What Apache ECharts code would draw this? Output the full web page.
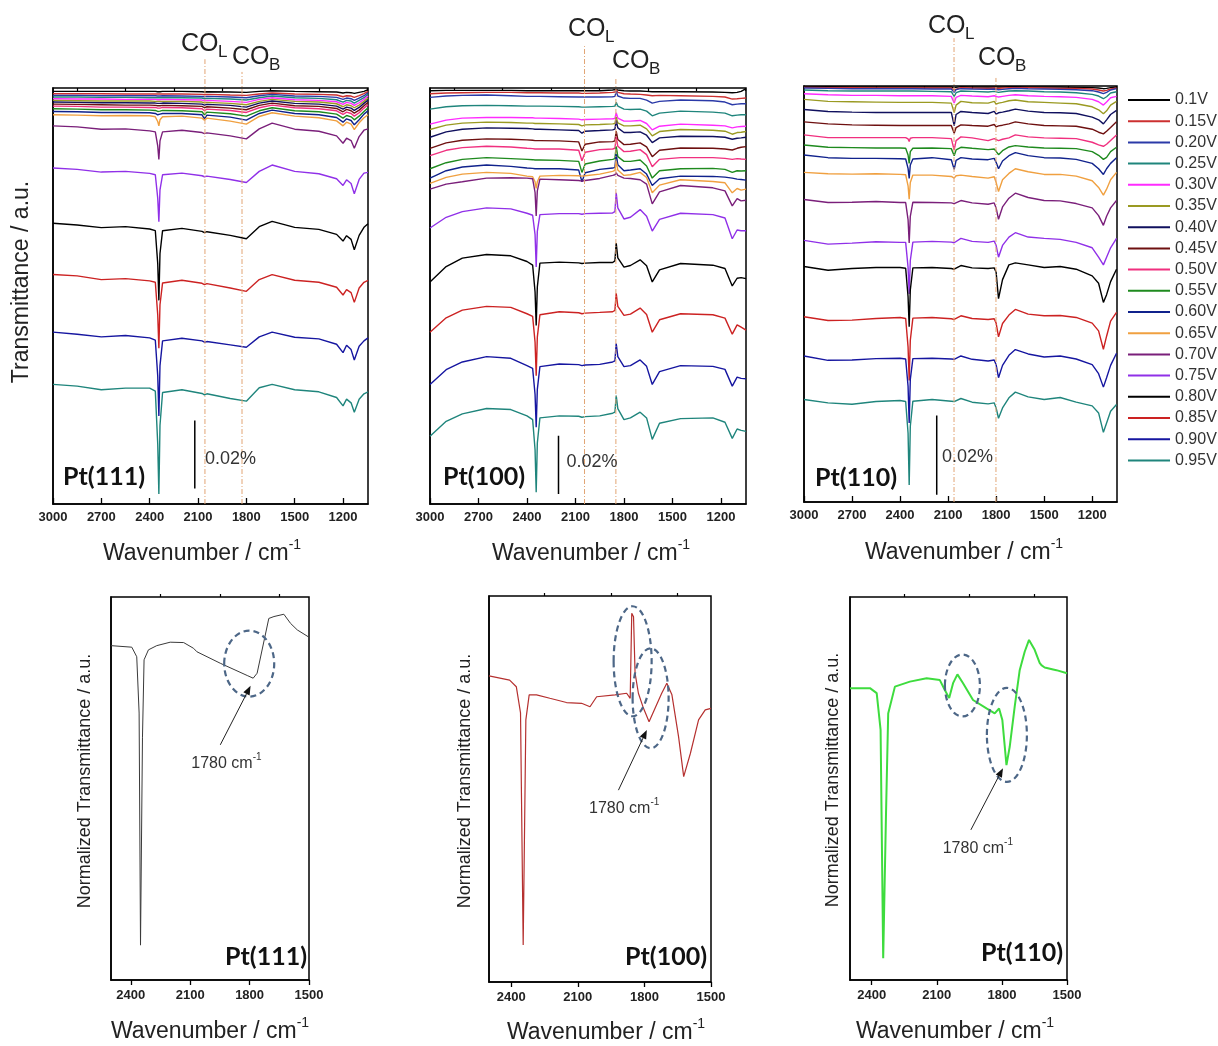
<!DOCTYPE html>
<html>
<head>
<meta charset="utf-8">
<script src="https://cdn.jsdelivr.net/npm/echarts@6/dist/echarts.min.js"></script>
<style>
  html, body { margin: 0; padding: 0; background: #fff; }
  #chart { width: 1218px; height: 1046px; }
</style>
</head>
<body>
<div id="chart"></div>
<script>
// ---------- electrode potentials (legend) ----------
const potentials = ['0.1V', '0.15V', '0.20V', '0.25V', '0.30V', '0.35V', '0.40V', '0.45V', '0.50V',
  '0.55V', '0.60V', '0.65V', '0.70V', '0.75V', '0.80V', '0.85V', '0.90V', '0.95V'];
const potentialColors = ['#000000', '#cc3030', '#2b3aa8', '#1f857c', '#ff2bff', '#9a9a22', '#10105e',
  '#6e1010', '#f0307f', '#1e8a1e', '#10228c', '#f0a040', '#7a1f7a', '#9030e8', '#000000', '#cc2222',
  '#1616a0', '#1f857c'];

// ---------- tick values ----------
const topMajorTicks = [3000, 2700, 2400, 2100, 1800, 1500, 1200];
const topMinorTicks = [2850, 2550, 2250, 1950, 1650, 1350, 1050];
const bottomMajorTicks = [2400, 2100, 1800, 1500];
const bottomMinorTicks = [2250, 1950, 1650];

// ---------- Pt(111) potential-dependent spectra (a.u.) ----------
// each spectrum = stacking offset (value at 3000 cm-1) + shape relative to it
const pt111Wavenumbers = [3000, 2850, 2700, 2550, 2400, 2365, 2350, 2343, 2336, 2320, 2200, 2075, 2060, 2045,
  1900, 1800, 1720, 1640, 1500, 1350, 1240, 1200, 1178, 1150, 1130, 1100, 1070, 1045];
const pt111Offsets = [123.2, 122.5, 122.0, 121.5, 121.0, 120.5, 120.0, 119.4, 118.8, 118.0, 117.2, 116.2,
  112.9, 100.3, 83.8, 68.5, 51.3, 35.7];
const pt111Shapes = [
  [0, 0, 0, 0, 0, 0, -0.1, -0.1, -0.1, 0, 0, -0.1, -0.2, -0.1, -0.2, -0.3, 0, 0.2, 0, -0.1, -0.2, -0.5, -0.3, -0.4, -0.6, -0.3, 0, 0.5],
  [0, 0, 0, -0.1, -0.1, -0.1, -0.1, -0.1, -0.1, -0.1, -0.1, -0.2, -0.3, -0.2, -0.4, -0.5, -0.1, 0.2, -0.1, -0.2, -0.4, -0.9, -0.6, -0.7, -1.1, -0.6, 0, 0.7],
  [0, 0, -0.1, -0.1, -0.1, -0.1, -0.2, -0.2, -0.2, -0.1, -0.2, -0.3, -0.4, -0.3, -0.5, -0.7, -0.1, 0.3, -0.2, -0.3, -0.6, -1.2, -0.8, -1.0, -1.5, -0.8, -0.1, 0.8],
  [0, 0, -0.1, -0.1, -0.2, -0.2, -0.2, -0.2, -0.2, -0.2, -0.2, -0.3, -0.5, -0.4, -0.6, -0.9, -0.2, 0.3, -0.2, -0.4, -0.8, -1.5, -1.0, -1.2, -1.8, -1.0, -0.2, 0.8],
  [0, -0.1, -0.1, -0.2, -0.2, -0.2, -0.3, -0.3, -0.3, -0.2, -0.3, -0.4, -0.6, -0.5, -0.8, -1.1, -0.2, 0.3, -0.3, -0.5, -0.9, -1.7, -1.1, -1.4, -2.0, -1.2, -0.2, 0.8],
  [0, -0.1, -0.2, -0.2, -0.2, -0.3, -0.3, -0.4, -0.3, -0.3, -0.3, -0.5, -0.7, -0.6, -0.9, -1.3, -0.3, 0.3, -0.3, -0.5, -1.0, -1.9, -1.3, -1.6, -2.2, -1.4, -0.3, 0.7],
  [0, -0.1, -0.2, -0.2, -0.3, -0.3, -0.4, -0.5, -0.4, -0.3, -0.4, -0.6, -0.9, -0.7, -1.0, -1.5, -0.3, 0.3, -0.4, -0.6, -1.2, -2.1, -1.5, -1.8, -2.5, -1.6, -0.4, 0.6],
  [0, -0.1, -0.2, -0.3, -0.3, -0.4, -0.5, -0.7, -0.5, -0.4, -0.5, -0.7, -1.1, -0.8, -1.2, -1.7, -0.4, 0.3, -0.5, -0.7, -1.3, -2.3, -1.6, -2.0, -2.7, -1.8, -0.5, 0.5],
  [0, -0.1, -0.3, -0.3, -0.4, -0.4, -0.6, -0.9, -0.6, -0.4, -0.5, -0.8, -1.4, -0.9, -1.3, -1.9, -0.5, 0.3, -0.5, -0.8, -1.4, -2.5, -1.8, -2.2, -3.0, -2.0, -0.6, 0.4],
  [0, -0.1, -0.3, -0.3, -0.4, -0.5, -0.8, -1.2, -0.7, -0.5, -0.6, -0.9, -1.8, -1.0, -1.5, -2.2, -0.6, 0.3, -0.6, -0.9, -1.6, -2.8, -2.0, -2.4, -3.3, -2.2, -0.8, 0.3],
  [0, -0.1, -0.3, -0.3, -0.4, -0.6, -1.0, -1.5, -0.8, -0.6, -0.6, -1.0, -2.2, -1.1, -1.7, -2.6, -0.6, 0.4, -0.6, -1.0, -1.8, -3.2, -2.2, -2.7, -4.0, -2.5, -0.8, 0.2],
  [0, -0.1, -0.3, -0.2, -0.3, -0.6, -2.0, -3.3, -1.5, -0.6, -0.4, -1.0, -1.6, -1.0, -1.9, -2.8, -0.5, 0.6, -0.4, -0.9, -1.8, -3.3, -2.2, -2.8, -4.4, -2.4, -0.9, 0],
  [0, -0.3, -1.0, -0.9, -1.5, -1.8, -6, -10, -4.5, -1.8, -1.3, -2.0, -2.3, -2.1, -3.0, -3.9, -0.9, 0.8, -1.0, -1.6, -3.0, -5.2, -3.7, -4.4, -6.7, -3.2, -1.3, -0.9],
  [0, -0.4, -1.2, -1.0, -1.6, -2.0, -9, -16, -6.5, -2.0, -1.5, -2.3, -2.6, -2.4, -3.4, -4.3, -1.0, 0.9, -1.0, -1.7, -3.2, -5.2, -3.5, -4.6, -7.7, -3.4, -1.5, -1.3],
  [0, -0.5, -1.3, -1.0, -1.7, -2.2, -12, -23, -9, -2.2, -1.5, -2.4, -2.8, -2.5, -3.6, -4.6, -1.0, 0.6, -1.2, -1.8, -3.3, -5.3, -3.7, -4.8, -7.9, -3.6, -1.2, -0.1],
  [0, -0.4, -1.5, -1.2, -1.9, -2.3, -12, -22, -9, -2.5, -1.7, -2.6, -3.0, -2.7, -4.0, -5.0, -1.5, 0, -1.7, -2.3, -3.8, -6.1, -4.5, -5.4, -8.3, -4.0, -2.3, -1.7],
  [0, -0.6, -1.4, -1.0, -1.7, -2.4, -13, -25, -10, -2.6, -1.8, -2.6, -3.0, -2.8, -3.8, -4.5, -1.4, 0, -1.5, -2.0, -3.6, -6.1, -3.9, -5.2, -8.3, -4.2, -2.6, -1.7],
  [0, -0.5, -1.6, -1.1, -1.1, -2.0, -17.7, -32.7, -12.2, -2.4, -1.6, -2.7, -3.1, -2.8, -4.2, -5.0, -1.0, 0, -1.6, -2.2, -3.9, -6.4, -4.4, -5.5, -8.3, -4.4, -2.8, -2.2]
];

// ---------- Pt(100) potential-dependent spectra (a.u.) ----------
const pt100Wavenumbers = [3000, 2900, 2800, 2650, 2500, 2400, 2365, 2350, 2343, 2336, 2320, 2200, 2080, 2060, 2040,
  1950, 1870, 1856, 1848, 1838, 1800, 1760, 1700, 1660, 1625, 1580, 1450, 1250, 1175, 1130, 1100, 1075, 1045];
const pt100Offsets = [123.4, 122.5, 121.4, 117.9, 113.4, 111.8, 109.5, 106.2, 104.0, 100.1, 97.3, 95.7,
  94.0, 82.4, 66.3, 51.3, 35.7, 20.2];
const pt100Shapes = [
  [0, 0.1, 0.1, 0.1, 0.1, 0, 0, 0, 0, 0, 0, 0, 0, 0, 0, 0, 0.2, 0.3, 0.6, 0.2, 0, -0.1, -0.1, -0.2, -0.3, -0.3, -0.3, -0.4, -0.5, -0.6, -0.5, -0.2, 0.6],
  [0, 0.2, 0.3, 0.4, 0.4, 0.3, 0.3, 0.3, 0.3, 0.3, 0.3, 0.2, 0.2, 0.1, 0.1, 0.2, 0.4, 0.5, 1.1, 0.4, 0, -0.1, -0.2, -0.4, -0.6, -0.5, -0.6, -0.8, -1.0, -1.6, -1.5, -1.4, -1.3],
  [0, 0.4, 0.6, 0.7, 0.5, 0.3, 0.3, 0.3, 0.3, 0.3, 0.3, 0.2, 0.1, 0.1, 0.1, 0.1, 0.2, 0.3, 1.8, 0.4, -0.2, -0.3, -0.3, -0.8, -1.7, -1.2, -0.8, -1.0, -1.4, -2.2, -2.0, -1.9, -1.9],
  [0, 0.7, 1.0, 1.1, 1.0, 0.9, 0.9, 0.9, 0.9, 0.9, 0.9, 0.8, 0.7, 0.6, 0.6, 0.7, 0.8, 0.9, 2.0, 0.9, 0, -0.1, 0, -0.6, -2.0, -1.2, -0.6, -0.9, -1.2, -2.0, -1.8, -1.7, -1.7],
  [0, 1.2, 1.8, 2.0, 2.0, 1.9, 1.9, 1.8, 1.8, 1.8, 1.8, 1.7, 1.5, 1.3, 1.4, 1.5, 1.6, 1.7, 3.4, 1.8, 0.9, 0.9, 1.1, 0.2, -1.7, -0.6, 0, -0.3, -0.5, -1.1, -0.8, -0.7, -0.6],
  [0, 1.3, 1.9, 2.2, 2.1, 1.9, 1.9, 1.8, 1.8, 1.8, 1.8, 1.7, 1.5, 1.1, 1.4, 1.5, 1.7, 1.8, 3.7, 2.0, 1.1, 1.1, 1.3, 0.2, -1.9, -0.6, 0, -0.2, -0.5, -1.4, -0.9, -0.8, -0.6],
  [0, 1.6, 2.4, 2.8, 2.7, 2.6, 2.5, 2.4, 2.4, 2.4, 2.4, 2.2, 2.0, 1.2, 1.8, 2.0, 2.2, 2.4, 5.0, 2.8, 1.4, 1.4, 1.6, 0.6, -1.6, -0.2, 0.3, 0.2, 0, -0.6, -0.3, -0.2, 0],
  [0, 1.6, 2.4, 2.8, 2.7, 2.5, 2.4, 2.3, 2.3, 2.3, 2.3, 2.2, 1.9, -0.8, 1.2, 1.9, 2.0, 2.2, 5.1, 2.6, 1.1, 1.2, 1.6, 0.4, -2.5, -0.6, 0.1, 0, -0.2, -0.5, 0, 0.3, 0.5],
  [0, 1.6, 2.4, 2.8, 2.6, 2.2, 2.1, 2.0, 2.0, 2.0, 2.0, 2.0, 1.6, -1.5, 1.0, 1.8, 2.0, 2.2, 5.5, 2.8, 1.2, 1.3, 1.8, 0.3, -3.3, -1.1, -0.6, -0.6, -0.8, -1.1, -0.9, -1.0, -1.1],
  [0, 1.8, 2.8, 3.3, 3.0, 2.8, 2.7, 2.6, 2.5, 2.6, 2.6, 2.5, 2.2, -1.1, 1.4, 2.3, 2.8, 3.0, 6.7, 3.6, 2.2, 2.2, 2.6, 0.8, -2.8, -0.6, 0, 0.1, -0.2, -1.1, -0.6, -0.7, -0.6],
  [0, 2.2, 3.3, 3.9, 3.5, 3.0, 2.9, 2.8, 2.6, 2.8, 2.8, 2.8, 2.4, -1.1, 1.6, 2.6, 3.0, 3.2, 7.2, 4.0, 2.2, 2.4, 2.8, 1.2, -2.2, -0.2, 0.6, 0.5, 0.3, 0, -0.3, -0.4, -0.6],
  [0, 1.8, 2.8, 3.3, 3.0, 2.2, 2.0, 0.5, -1.5, 0.5, 2.2, 2.4, 2.3, 2.2, 2.3, 2.8, 3.6, 3.9, 6.6, 4.0, 2.4, 2.6, 3.3, 1.8, -2.8, -0.5, 1.1, 0.6, 0.2, -2.8, -1.5, -2.0, -1.7],
  [0, 1.5, 2.2, 3.3, 3.4, 3.3, 3.1, -1, -8, -0.5, 3.0, 2.8, 2.6, 2.4, 2.6, 3.2, 4.1, 4.3, 4.9, 4.1, 3.3, 3.2, 2.8, 1.5, -4.4, -0.8, 1.1, 0.4, -0.5, -5.0, -2.8, -3.5, -3.3],
  [0, 3.2, 4.9, 6.0, 5.7, 4.4, 3.8, -2, -11.6, -1, 4.0, 4.3, 4.3, 4.1, 4.3, 4.4, 4.5, 4.9, 10.5, 6.0, 2.7, 3.2, 5.5, 3.5, -0.9, 2.6, 4.4, 4.0, 3.0, -3.2, -0.6, -0.8, -0.8],
  [0, 4.6, 7.1, 8.2, 7.8, 6.1, 5.0, -3, -13, -1.5, 5.6, 5.9, 5.7, 5.5, 5.6, 5.8, 5.8, 6.3, 11.6, 7.2, 4.4, 4.9, 6.6, 4.8, 0, 3.6, 5.5, 5.0, 4.0, -1.2, 1.1, 1.3, 1.0],
  [0, 4.3, 6.6, 7.7, 7.4, 5.5, 4.7, -3, -13, -1.5, 5.2, 6.1, 5.8, 5.5, 5.7, 5.9, 6.1, 6.5, 11.6, 7.7, 5.0, 5.4, 7.2, 5.3, 0, 3.7, 5.5, 5.2, 4.2, -0.6, 2.2, 1.5, 0.6],
  [0, 4.4, 6.7, 8.3, 7.8, 5.6, 4.8, -3, -12.8, -1.5, 5.3, 6.1, 5.9, 5.6, 5.8, 6.0, 6.7, 7.0, 12.2, 8.3, 5.3, 5.6, 7.3, 5.4, 0, 3.8, 5.6, 5.4, 4.5, -0.5, 2.2, 1.8, 1.7],
  [0, 4.5, 6.7, 8.3, 8.0, 6.1, 5.0, -4, -16.7, -2, 5.5, 6.1, 6.0, 5.7, 5.9, 6.1, 6.9, 7.2, 12.2, 8.3, 5.0, 5.5, 7.2, 5.5, -0.9, 3.9, 5.3, 5.5, 4.2, -0.6, 2.2, 1.8, 1.5]
];

// ---------- Pt(110) potential-dependent spectra (a.u.) ----------
const pt110Wavenumbers = [3000, 2850, 2700, 2550, 2400, 2365, 2350, 2343, 2336, 2320, 2200, 2080, 2062, 2050, 2020,
  1950, 1850, 1812, 1800, 1785, 1760, 1720, 1680, 1600, 1500, 1400, 1300, 1200, 1160, 1130, 1110, 1085, 1048];
const pt110Offsets = [124.0, 123.8, 123.6, 123.0, 121.9, 120.2, 117.2, 113.5, 109.6, 106.6, 103.6, 98.4,
  90.3, 78.1, 70.3, 55.3, 43.6, 30.6];
const pt110Shapes = [
  [0, 0, -0.1, -0.1, -0.1, -0.1, -0.1, -0.1, -0.1, -0.1, -0.1, -0.1, -0.3, -0.1, 0, -0.1, -0.1, -0.1, -0.1, -0.1, -0.1, 0, 0, -0.1, -0.1, -0.1, -0.2, -0.3, -0.4, -0.6, -0.5, -0.3, -0.1],
  [0, -0.1, -0.1, -0.2, -0.2, -0.2, -0.2, -0.2, -0.2, -0.2, -0.2, -0.2, -0.8, -0.3, -0.1, -0.2, -0.3, -0.2, -0.3, -0.3, -0.2, -0.1, -0.1, -0.1, -0.2, -0.3, -0.3, -0.5, -0.8, -1.1, -0.9, -0.5, -0.2],
  [0, -0.1, -0.2, -0.2, -0.2, -0.2, -0.2, -0.2, -0.2, -0.2, -0.3, -0.3, -1.3, -0.5, -0.2, -0.3, -0.4, -0.3, -0.5, -0.5, -0.4, -0.2, -0.1, -0.2, -0.3, -0.4, -0.5, -0.8, -1.2, -1.7, -1.3, -0.6, -0.2],
  [0, -0.2, -0.3, -0.3, -0.3, -0.3, -0.3, -0.3, -0.3, -0.3, -0.4, -0.5, -1.9, -0.8, -0.3, -0.4, -0.6, -0.4, -0.7, -0.7, -0.5, -0.3, -0.2, -0.3, -0.5, -0.6, -0.8, -1.3, -1.8, -2.6, -2.0, -0.9, -0.5],
  [0, -0.3, -0.5, -0.5, -0.6, -0.6, -0.6, -0.6, -0.6, -0.6, -0.6, -0.8, -2.8, -1.1, -0.5, -0.7, -0.9, -0.6, -1.1, -1.0, -0.8, -0.5, -0.3, -0.6, -0.8, -0.9, -1.1, -1.7, -2.4, -3.4, -2.5, -1.2, -0.8],
  [0, -0.6, -0.7, -0.8, -0.9, -0.9, -0.9, -0.9, -0.9, -0.9, -0.9, -1.1, -3.9, -1.7, -0.6, -1.0, -1.1, -0.6, -1.4, -1.1, -0.9, -0.4, -0.2, -0.7, -0.9, -1.1, -1.3, -2.2, -3.1, -4.3, -3.4, -1.7, -0.6],
  [0, -0.6, -0.8, -0.9, -0.9, -0.9, -0.9, -1.0, -0.9, -0.9, -0.9, -0.9, -4.8, -1.5, -0.6, -0.9, -1.2, -0.6, -1.4, -1.0, -0.8, -0.4, 0.1, -0.5, -0.9, -1.0, -1.2, -2.3, -3.1, -4.3, -3.1, -1.5, -0.3],
  [0, -0.6, -0.9, -1.0, -1.1, -1.1, -1.1, -1.2, -1.1, -1.1, -1.1, -1.1, -3.4, -1.7, -0.9, -1.1, -1.3, -0.8, -1.5, -1.2, -1.0, -0.6, 0, -0.6, -1.1, -1.2, -1.3, -2.2, -3.1, -3.6, -2.8, -1.7, 0],
  [0, -0.8, -0.8, -0.8, -0.8, -0.8, -1.2, -2.0, -1.0, -0.8, -0.8, -1.1, -4.5, -1.7, -0.6, -0.9, -1.7, -1.1, -1.6, -1.7, -1.3, -0.9, 0, -0.6, -0.9, -1.0, -1.1, -2.2, -3.0, -3.4, -2.8, -1.7, 0],
  [0, -0.7, -0.8, -0.9, -0.9, -1.0, -3, -5.5, -2, -1.0, -0.9, -1.1, -3.2, -1.5, -0.7, -1.0, -1.4, -1.2, -1.9, -2.9, -1.7, -0.6, -0.2, -0.6, -0.9, -1.0, -1.1, -2.0, -3.1, -4.3, -3.7, -2.0, -0.7],
  [0, -0.8, -1.0, -1.0, -1.1, -1.2, -4, -7, -3, -1.2, -0.8, -1.4, -4.3, -1.6, -0.8, -1.2, -1.4, -1.0, -2.2, -4.1, -1.8, -0.2, 0.7, -0.2, -0.8, -0.9, -1.3, -2.5, -4.1, -5.8, -4.1, -2.5, -0.8],
  [0, -0.4, -0.5, -0.4, -0.6, -0.7, -4, -8, -3, -0.8, -0.8, -1.2, -1.7, -1.0, -0.8, -1.2, -1.7, -1.3, -3.0, -5.7, -2.2, -0.3, 1.1, 0.2, -0.6, -0.6, -1.1, -2.5, -4.5, -6.8, -5.0, -2.2, 0],
  [0, -0.9, -0.8, -0.6, -0.9, -0.9, -6, -13, -5, -0.8, -0.9, -1.0, -1.2, -1.2, -0.3, -1.0, -1.4, -1.0, -2.5, -5.9, -2.2, 0.4, 1.9, 0.6, -0.3, -0.4, -1.2, -2.5, -4.8, -7.7, -5.0, -2.5, -0.3],
  [0, -1.1, -0.8, -0.4, -0.6, -0.6, -8, -16, -6, -0.5, -0.3, -0.5, -0.7, -0.6, 0.6, -0.3, -0.6, -0.2, -1.5, -5.0, -1.5, 1.0, 2.3, 1.0, 0.6, 0.3, -0.6, -2.2, -5.0, -7.3, -5.0, -2.2, 0.6],
  [0, -1.1, -0.6, -0.3, -0.3, -0.5, -9, -18, -7, -0.4, -0.3, -0.6, -0.8, -0.8, 0.3, -0.4, -0.6, -0.4, -1.7, -9.6, -3.9, 0.5, 1.1, 0.5, -0.3, 0, -0.8, -2.8, -5.0, -10.7, -8.4, -4.5, -0.8],
  [0, -1.1, -1.0, -0.5, -0.2, -0.5, -9, -19, -7, -0.4, -0.2, -0.6, -0.8, -0.8, 0.3, -0.5, -0.8, -0.6, -1.9, -6.0, -2.0, 0.5, 2.2, 0.8, 0.3, 0.4, -0.2, -1.9, -4.2, -9.7, -5.8, -1.3, 1.3],
  [0, -1.3, -1.2, -0.8, -0.7, -0.9, -9, -20, -7, -0.8, -0.7, -0.9, -1.0, -1.2, 0.0, -1.0, -1.5, -1.2, -2.6, -6.5, -2.8, 0.2, 1.9, 0.6, -0.3, 0, -0.9, -2.6, -5.3, -9.3, -6.5, -2.8, 0.8],
  [0, -1.0, -1.4, -0.6, -0.3, -0.6, -10, -25.5, -8, -0.5, 0, -0.5, -0.6, -0.8, 0.3, -0.8, -1.3, -1.0, -2.5, -5.6, -2.5, 0.5, 2.2, 0.8, 0, 0.6, -0.8, -1.9, -4.0, -9.8, -7.0, -3.5, -1.5]
];

// ---------- normalized single spectra (a.u.) ----------
const pt111NormWavenumbers = [2500, 2395, 2370, 2358, 2351, 2341, 2333, 2311, 2269, 2201, 2133, 2083, 2066, 1948,
  1812, 1782, 1762, 1703, 1677, 1627, 1593, 1559, 1500];
const pt111NormValues = [87.3, 86.9, 84.4, 69.7, 9.1, 63.4, 83.6, 86.2, 87.3, 88.2, 88.1, 86.6, 85.7, 82.7,
  79.5, 78.8, 80.1, 94.4, 94.9, 95.5, 93.1, 91.4, 89.5];
const pt100NormWavenumbers = [2500, 2407, 2377, 2358, 2346, 2334, 2319, 2286, 2226, 2151, 2083, 2045, 2015, 1932,
  1880, 1864, 1857, 1849, 1842, 1827, 1804, 1779, 1752, 1722, 1699, 1676, 1646, 1623, 1593, 1556, 1526, 1500];
const pt100NormValues = [79.3, 78.2, 76.5, 69.7, 9.6, 67.9, 74.4, 74.4, 73.5, 72.4, 72.2, 71.3, 73.9, 74.4,
  74.8, 73.5, 95.5, 94.6, 80.0, 74.8, 70.9, 67.4, 70.9, 74.8, 77.4, 74.4, 63.5, 53.2, 59.2, 67.9, 70.5, 70.9];
const pt110NormWavenumbers = [2500, 2408, 2377, 2359, 2347, 2334, 2324, 2293, 2224, 2147, 2086, 2063, 2043, 2025,
  2005, 1979, 1933, 1871, 1833, 1813, 1798, 1779, 1764, 1741, 1718, 1695, 1675, 1649, 1626, 1618, 1603, 1549, 1500];
const pt110NormValues = [76.2, 76.2, 74.9, 65.3, 5.7, 43.6, 69.6, 76.6, 77.9, 78.8, 78.3, 75.7, 73.6, 77.5,
  79.8, 77.5, 73.1, 70.9, 69.6, 70.9, 67.9, 56.1, 60.9, 71.4, 80.9, 85.7, 88.8, 86.2, 82.8, 82.2, 81.6, 80.9, 80.1];

// ---------- band positions and scale bars ----------
const coLinearBand = [2057, 2044, 2063];   // cm-1, per surface
const coBridgeBand = [1827, 1850, 1801];
const scaleBarPercent = 0.02;              // transmittance change shown by the bar
const auPerPercent = [1015, 870, 1180];    // a.u. per 1 % in each stacked panel
const scaleBarWavenumber = [2120, 2205, 2171];
const scaleBarBase = [4.6, 3.0, 2.2];

// ---------- layout ----------
const FONT = '"Liberation Sans", Arial, sans-serif';
const BOLD_FONT = 'Lato, "Liberation Sans", sans-serif';
const TOP_YMAX = 124.2;
const grids = [
  { left: 53, top: 88, width: 315, height: 416 },
  { left: 430, top: 88, width: 316, height: 416 },
  { left: 804, top: 86, width: 313, height: 416 },
  { left: 111, top: 597, width: 198, height: 383 },
  { left: 489, top: 596, width: 222, height: 386 },
  { left: 850, top: 597, width: 217, height: 383 }
].map(g => Object.assign({ show: true, borderColor: '#000', borderWidth: 1.5, backgroundColor: 'transparent' }, g));

const plainNumber = v => String(v);
const xAxes = [];
const yAxes = [];
for (let g = 0; g < 6; g++) {
  const isTop = g < 3;
  xAxes.push({
    gridIndex: g, type: 'value', inverse: true,
    min: isTop ? 1045 : 1500, max: isTop ? 3000 : 2500,
    axisLine: { show: true, lineStyle: { color: '#000', width: 1.5 } },
    axisTick: { show: true, inside: isTop, length: isTop ? 6 : 5,
      customValues: isTop ? topMajorTicks : bottomMajorTicks, lineStyle: { color: '#000', width: 1.3 } },
    axisLabel: { show: true, customValues: isTop ? topMajorTicks : bottomMajorTicks, formatter: plainNumber,
      fontSize: 13, fontWeight: 'bold', color: '#222', fontFamily: FONT, margin: isTop ? 7 : 9 },
    splitLine: { show: false }
  });
  yAxes.push({
    gridIndex: g, type: 'value', min: 0, max: isTop ? TOP_YMAX : 100,
    axisLine: { show: true, lineStyle: { color: '#000', width: 1.5 } },
    axisTick: { show: false }, axisLabel: { show: false }, splitLine: { show: false }
  });
}
for (let g = 0; g < 6; g++) {
  const isTop = g < 3;
  xAxes.push({
    gridIndex: g, type: 'value', inverse: true,
    min: isTop ? 1045 : 1500, max: isTop ? 3000 : 2500,
    axisLine: { show: false },
    axisTick: { show: true, inside: isTop, length: 3,
      customValues: isTop ? topMinorTicks : bottomMinorTicks, lineStyle: { color: '#000', width: 1.2 } },
    axisLabel: { show: false },
    splitLine: { show: false }
  });
}

const series = [];
const stacked = [
  { wn: pt111Wavenumbers, offsets: pt111Offsets, shapes: pt111Shapes },
  { wn: pt100Wavenumbers, offsets: pt100Offsets, shapes: pt100Shapes },
  { wn: pt110Wavenumbers, offsets: pt110Offsets, shapes: pt110Shapes }
];
stacked.forEach((p, g) => {
  potentials.forEach((name, i) => {
    series.push({
      name, type: 'line', xAxisIndex: g, yAxisIndex: g, silent: true,
      symbol: 'none', showSymbol: false, z: 3,
      lineStyle: { width: 1.4, color: potentialColors[i] },
      itemStyle: { color: potentialColors[i] },
      data: p.wn.map((w, k) => [w, +(p.offsets[i] + p.shapes[i][k]).toFixed(2)])
    });
  });
  // CO band guide lines reaching up to their labels
  [[coLinearBand[g], [132.8, 136.7, 138.5][g]], [coBridgeBand[g], [129, 127, 126.6][g]]].forEach(([w, top]) => {
    series.push({
      name: 'band', type: 'line', xAxisIndex: g, yAxisIndex: g, silent: true, clip: false,
      symbol: 'none', z: 4,
      lineStyle: { width: 1, color: '#e2a574', type: [5, 2, 1, 2] },
      data: [[w, 0], [w, top]]
    });
  });
  // 0.02 % scale bar
  series.push({
    name: 'scale', type: 'line', xAxisIndex: g, yAxisIndex: g, silent: true,
    symbol: 'none', z: 5, lineStyle: { width: 1.5, color: '#000' },
    data: [[scaleBarWavenumber[g], scaleBarBase[g]],
           [scaleBarWavenumber[g], scaleBarBase[g] + scaleBarPercent * auPerPercent[g]]]
  });
});

const normalized = [
  { wn: pt111NormWavenumbers, v: pt111NormValues, color: '#3a3a3a', width: 1 },
  { wn: pt100NormWavenumbers, v: pt100NormValues, color: '#b5302f', width: 1.2 },
  { wn: pt110NormWavenumbers, v: pt110NormValues, color: '#3edc3e', width: 2 }
];
normalized.forEach((p, j) => {
  series.push({
    name: 'normalized', type: 'line', xAxisIndex: 3 + j, yAxisIndex: 3 + j, silent: true,
    symbol: 'none', z: 3, lineStyle: { width: p.width, color: p.color },
    data: p.wn.map((w, k) => [w, p.v[k]])
  });
});

const option = {
  animation: false,
  backgroundColor: '#fff',
  grid: grids,
  xAxis: xAxes,
  yAxis: yAxes,
  legend: {
    data: potentials, orient: 'vertical', left: 1123, top: 87,
    icon: 'rect', itemWidth: 42, itemHeight: 2, itemGap: 5.2, selectedMode: false,
    textStyle: { fontSize: 16, color: '#333', fontFamily: FONT }
  },
  series
};

const chart = echarts.init(document.getElementById('chart'), null, { renderer: 'canvas' });
chart.setOption(option);

// ---------- annotations ----------
const toPx = (g, p) => chart.convertToPixel({ xAxisIndex: g, yAxisIndex: g }, p);
const graphics = [];

function text(x, y, str, opts) {
  graphics.push({
    type: 'text', x, y, z: 20, silent: true, rotation: opts.rotation || 0,
    style: Object.assign({ text: str, fill: '#222', font: `${opts.size}px ${FONT}`,
      align: opts.align || 'left', verticalAlign: 'middle' }, opts.style || {})
  });
}
function axisTitle(x, y, rotation, size) {
  graphics.push({
    type: 'text', x, y, rotation, z: 20, silent: true,
    style: {
      text: '{m|Wavenumber / cm}{s|-1}', align: 'center', verticalAlign: 'middle',
      rich: {
        m: { fontSize: size, fontFamily: FONT, fill: '#222', lineHeight: size + 4, verticalAlign: 'bottom' },
        s: { fontSize: Math.round(size * 0.6), fontFamily: FONT, fill: '#222', lineHeight: size * 0.6, verticalAlign: 'top' }
      }
    }
  });
}

// x-axis titles
[[202, 552], [591, 552], [964, 551], [210, 1030], [606, 1031], [955, 1030]].forEach(([x, y]) => axisTitle(x, y, 0, 23));
// y-axis titles
text(22, 282, 'Transmittance / a.u.', { size: 23, align: 'center', rotation: Math.PI / 2 });
[[85, 781], [465, 781], [833, 780]].forEach(([x, y]) =>
  text(x, y, 'Normalized Transmittance / a.u.', { size: 18, align: 'center', rotation: Math.PI / 2 }));

// surface labels
const surfaces = ['Pt(111)', 'Pt(100)', 'Pt(110)'];
[[63, 477], [443, 477], [815, 478]].forEach(([x, y], g) =>
  text(x, y, surfaces[g], { size: 25, style: { font: `bold 25px ${BOLD_FONT}`, fill: '#111' } }));
[[307, 957], [707, 957], [1063, 953]].forEach(([x, y], g) =>
  text(x, y, surfaces[g], { size: 25, align: 'right', style: { font: `bold 25px ${BOLD_FONT}`, fill: '#111' } }));

// CO band labels
const coLabels = [
  { l: [181, 44], b: [232, 57] },
  { l: [568, 29], b: [612, 61] },
  { l: [928, 26], b: [978, 58] }
];
coLabels.forEach(c => {
  text(c.l[0], c.l[1], 'CO', { size: 25 });
  text(c.l[0] + 37, c.l[1] + 8, 'L', { size: 17 });
  text(c.b[0], c.b[1], 'CO', { size: 25 });
  text(c.b[0] + 37, c.b[1] + 8, 'B', { size: 17 });
});

// scale-bar captions
const barLabelAnchor = [[2057, 13.5], [2156, 12.4], [2138, 13.5]];
barLabelAnchor.forEach((a, g) => {
  const [x, y] = toPx(g, a);
  text(x, y, (scaleBarPercent).toFixed(2) + '%', { size: 18, style: { fill: '#333' } });
});

// dashed ellipses and arrows on the normalized spectra
const ellipses = [
  [{ c: [1802, 82.6], rx: 25, ry: 33 }],
  [{ c: [1853, 83.1], rx: 19, ry: 55 }, { c: [1772, 73.5], rx: 18, ry: 50 }],
  [{ c: [1982, 76.9], rx: 17.5, ry: 31 }, { c: [1777, 64.0], rx: 20, ry: 47 }]
];
const arrows = [
  { tail: [1948, 61.4], tip: [1795, 76.8], label: [1917, 56.9] },
  { tail: [1917, 49.7], tip: [1789, 65.3], label: [1891, 45.3] },
  { tail: [1943, 39.2], tip: [1795, 55.3], label: [1911, 34.7] }
];
ellipses.forEach((list, j) => {
  list.forEach(e => {
    const [cx, cy] = toPx(3 + j, e.c);
    graphics.push({
      type: 'ellipse', z: 15, silent: true,
      shape: { cx, cy, rx: e.rx, ry: e.ry },
      style: { fill: 'none', stroke: '#4d6787', lineWidth: 2.2, lineDash: [6, 4] }
    });
  });
});
arrows.forEach((a, j) => {
  const [x1, y1] = toPx(3 + j, a.tail);
  const [x2, y2] = toPx(3 + j, a.tip);
  const len = Math.hypot(x2 - x1, y2 - y1);
  const dx = (x2 - x1) / len, dy = (y2 - y1) / len;
  const head = 9, half = 3.5;
  const bx = x2 - dx * head, by = y2 - dy * head;
  graphics.push({ type: 'line', z: 16, silent: true, shape: { x1, y1, x2: bx, y2: by },
    style: { stroke: '#222', lineWidth: 1 } });
  graphics.push({ type: 'polygon', z: 16, silent: true,
    shape: { points: [[x2, y2], [bx - dy * half, by + dx * half], [bx + dy * half, by - dx * half]] },
    style: { fill: '#111' } });
  const [lx, ly] = toPx(3 + j, a.label);
  graphics.push({
    type: 'text', x: lx, y: ly, z: 20, silent: true,
    style: {
      text: '{m|1780 cm}{s|-1}', align: 'center', verticalAlign: 'middle',
      rich: {
        m: { fontSize: 16, fontFamily: FONT, fill: '#333', lineHeight: 19, verticalAlign: 'bottom' },
        s: { fontSize: 10, fontFamily: FONT, fill: '#333', lineHeight: 10, verticalAlign: 'top' }
      }
    }
  });
});

chart.setOption({ graphic: graphics });
</script>
</body>
</html>
